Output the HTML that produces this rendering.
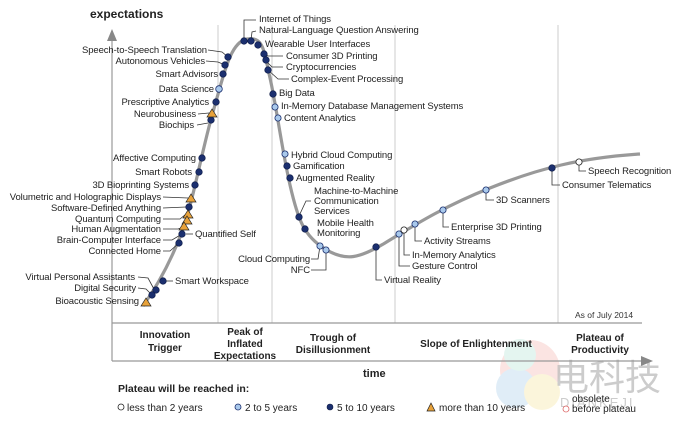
<!DOCTYPE html>
<html><head><meta charset="utf-8"><style>
html,body{margin:0;padding:0;background:#fff;}
svg{display:block;font-family:"Liberation Sans",Arial,sans-serif;}
.l{font-size:9.5px;fill:#222;letter-spacing:-0.1px}
.b{font-size:10px;font-weight:bold;fill:#222;text-anchor:middle}
.d{fill:#1b2f6e;stroke:#0d1a45;stroke-width:.6}
.c{fill:#a9c9ec;stroke:#1b2f6e;stroke-width:.8}
.w{fill:#fff;stroke:#222;stroke-width:.8}
.t{fill:#e8a23a;stroke:#222;stroke-width:.7}
.k{stroke:#333;stroke-width:.8;fill:none}
</style></head><body>
<svg width="680" height="425" viewBox="0 0 680 425" xmlns="http://www.w3.org/2000/svg">
<g opacity="0.3">
<circle cx="530" cy="370" r="30" fill="#f2a7a0"/>
<circle cx="516" cy="388" r="20" fill="#9cc6e8"/>
<circle cx="542" cy="392" r="18" fill="#f5e08a"/>
<circle cx="520" cy="355" r="16" fill="#a8e0d0"/>
</g>
<text x="553" y="390" font-size="36" fill="#bbb" font-family="'Liberation Sans','Noto Sans CJK SC',sans-serif" opacity="0.75">电科技</text>
<text x="560" y="407" font-size="13" fill="#ccc" letter-spacing="2">DIANKEJI</text>
<g stroke="#ccc" stroke-width="1">
<line x1="218" y1="25" x2="218" y2="323"/>
<line x1="272" y1="25" x2="272" y2="323"/>
<line x1="395" y1="25" x2="395" y2="323"/>
<line x1="558" y1="25" x2="558" y2="323"/>
</g>
<g stroke="#999" stroke-width="1.2">
<line x1="112" y1="40" x2="112" y2="361"/>
<line x1="112" y1="323" x2="642" y2="323"/>
<line x1="112" y1="361" x2="642" y2="361"/>
</g>
<polygon points="107,41 117,41 112,29" fill="#888"/>
<polygon points="641,356 641,366 653,361" fill="#888"/>
<text x="90" y="18" font-size="12" font-weight="bold" fill="#222">expectations</text>
<text x="363" y="377" font-size="11" font-weight="bold" fill="#222">time</text>
<text x="575" y="318" font-size="8.5" fill="#333">As of July 2014</text>
<text class="b" x="165" y="338">Innovation</text><text class="b" x="165" y="351">Trigger</text>
<text class="b" x="245" y="335">Peak of</text><text class="b" x="245" y="347">Inflated</text><text class="b" x="245" y="359">Expectations</text>
<text class="b" x="333" y="341">Trough of</text><text class="b" x="333" y="353">Disillusionment</text>
<text class="b" x="476" y="347">Slope of Enlightenment</text>
<text class="b" x="600" y="341">Plateau of</text><text class="b" x="600" y="353">Productivity</text>
<text x="118" y="392" font-size="10.5" font-weight="bold" fill="#222">Plateau will be reached in:</text>
<g font-size="10" fill="#222">
<circle class="w" cx="121" cy="407" r="3"/><text x="127" y="411">less than 2 years</text>
<circle class="c" cx="238" cy="407" r="3"/><text x="245" y="411">2 to 5 years</text>
<circle class="d" cx="330" cy="407" r="3"/><text x="337" y="411">5 to 10 years</text>
<polygon class="t" points="427,411 435,411 431,403"/><text x="439" y="411">more than 10 years</text>
<circle cx="566" cy="409" r="3" fill="#fff" stroke="#d66" stroke-width=".8"/><text x="572" y="402">obsolete</text><text x="572" y="412">before plateau</text>
</g>
<path d="M143,306 C158,285 172,258 182,232 S202,150 213,112 S230,42 247,39 S264,52 270,78 S282,150 290,185 S304,236 325,249 S360,258 385,243 S440,208 490,188 S580,158 640,154" fill="none" stroke="#999" stroke-width="3.2"/>
<g class="k">
<path d="M208,50 L222,52 L228,57"/><path d="M206,61 L218,62 L225,65"/>
<path d="M198,114 L209,113"/><path d="M197,125 L208,123"/>
<path d="M163,197 L188,198"/><path d="M163,208 L186,207"/>
<path d="M163,219 L180,219 L186,214"/><path d="M163,229 L178,229 L184,227"/>
<path d="M163,240 L172,240 L182,234"/><path d="M163,251 L170,251 L179,243"/>
<path d="M138,277 L148,278 L155,291"/><path d="M138,288 L146,289 L152,295"/>
<path d="M186,234 L193,234"/><path d="M166,281 L173,281"/>
<path d="M244,40 L244,20 L256,20"/><path d="M251,40 L252,32 L256,31"/>
<path d="M264,54 L268,56 L283,56"/><path d="M266,61 L272,67 L283,67"/><path d="M268,70 L278,79 L289,79"/>
<path d="M299,216 L306,201 L311,201"/>
<path d="M320,246 L318,259 L311,259"/><path d="M326,250 L326,270 L311,270"/>
<path d="M376,247 L376,280 L382,280"/>
<path d="M399,234 L399,266 L410,266"/><path d="M404,230 L404,255 L410,255"/>
<path d="M415,224 L415,241 L422,241"/><path d="M443,210 L443,227 L449,227"/>
<path d="M486,190 L486,200 L494,200"/><path d="M552,168 L552,185 L560,185"/>
<path d="M579,162 L579,171 L586,171"/>
</g>
<g class="l" text-anchor="end">
<text x="207" y="53">Speech-to-Speech Translation</text>
<text x="205" y="64">Autonomous Vehicles</text>
<text x="218" y="77">Smart Advisors</text>
<text x="214" y="92">Data Science</text>
<text x="209" y="105">Prescriptive Analytics</text>
<text x="196" y="117">Neurobusiness</text>
<text x="194" y="128">Biochips</text>
<text x="196" y="161">Affective  Computing</text>
<text x="192" y="175">Smart Robots</text>
<text x="189" y="188">3D Bioprinting Systems</text>
<text x="161" y="200">Volumetric and Holographic Displays</text>
<text x="161" y="211">Software-Defined Anything</text>
<text x="161" y="222">Quantum Computing</text>
<text x="161" y="232">Human Augmentation</text>
<text x="161" y="243">Brain-Computer Interface</text>
<text x="161" y="254">Connected Home</text>
<text x="135" y="280">Virtual Personal Assistants</text>
<text x="136" y="291">Digital Security</text>
<text x="139" y="304">Bioacoustic Sensing</text>
<text x="310" y="262">Cloud Computing</text>
<text x="310" y="273">NFC</text>
</g>
<g class="l">
<text x="195" y="237">Quantified Self</text>
<text x="175" y="284">Smart Workspace</text>
<text x="259" y="22">Internet of Things</text>
<text x="259" y="33">Natural-Language Question Answering</text>
<text x="265" y="47">Wearable User Interfaces</text>
<text x="286" y="59">Consumer 3D Printing</text>
<text x="286" y="70">Cryptocurrencies</text>
<text x="291" y="82">Complex-Event Processing</text>
<text x="279" y="96">Big Data</text>
<text x="281" y="109">In-Memory Database Management Systems</text>
<text x="284" y="121">Content Analytics</text>
<text x="291" y="158">Hybrid Cloud Computing</text>
<text x="293" y="169">Gamification</text>
<text x="296" y="181">Augmented Reality</text>
<text x="314" y="194">Machine-to-Machine</text>
<text x="314" y="204">Communication</text>
<text x="314" y="214">Services</text>
<text x="317" y="226">Mobile Health</text>
<text x="317" y="236">Monitoring</text>
<text x="384" y="283">Virtual Reality</text>
<text x="412" y="258">In-Memory Analytics</text>
<text x="412" y="269">Gesture Control</text>
<text x="424" y="244">Activity  Streams</text>
<text x="451" y="230">Enterprise 3D Printing</text>
<text x="496" y="203">3D Scanners</text>
<text x="562" y="188">Consumer Telematics</text>
<text x="588" y="174">Speech Recognition</text>
</g>
<g>
<circle class="d" cx="228" cy="57" r="3.3"/><circle class="d" cx="225" cy="65" r="3.3"/>
<circle class="d" cx="223" cy="74" r="3.3"/><circle class="c" cx="219" cy="89" r="3.3"/>
<circle class="d" cx="216" cy="102" r="3.3"/><circle class="d" cx="211" cy="120" r="3.3"/>
<polygon class="t" points="207,117 217,117 212,109"/>
<circle class="d" cx="202" cy="158" r="3.3"/><circle class="d" cx="199" cy="172" r="3.3"/>
<circle class="d" cx="195" cy="185" r="3.3"/><polygon class="t" points="186,202 196,202 191,194"/>
<circle class="d" cx="189" cy="207" r="3.3"/><polygon class="t" points="183,218 193,218 188,210"/>
<polygon class="t" points="182,224 192,224 187,216"/><polygon class="t" points="179,230 189,230 184,222"/>
<circle class="d" cx="182" cy="234" r="3.3"/><circle class="d" cx="179" cy="243" r="3.3"/>
<circle class="d" cx="163" cy="281" r="3.3"/><circle class="d" cx="156" cy="290" r="3.3"/>
<circle class="d" cx="152" cy="295" r="3.3"/><polygon class="t" points="141,306 151,306 146,298"/>
<circle class="d" cx="244" cy="41" r="3.3"/><circle class="d" cx="251" cy="41" r="3.3"/>
<circle class="d" cx="258" cy="45" r="3.3"/><circle class="d" cx="264" cy="54" r="3.3"/>
<circle class="d" cx="266" cy="60" r="3.3"/><circle class="d" cx="268" cy="70" r="3.3"/>
<circle class="d" cx="273" cy="94" r="3.3"/><circle class="c" cx="275" cy="107" r="3.1"/>
<circle class="c" cx="278" cy="118" r="3.1"/><circle class="c" cx="285" cy="154" r="3.1"/>
<circle class="d" cx="287" cy="166" r="3.3"/><circle class="d" cx="290" cy="178" r="3.3"/>
<circle class="d" cx="299" cy="217" r="3.3"/><circle class="d" cx="305" cy="229" r="3.3"/>
<circle class="c" cx="320" cy="246" r="3.1"/><circle class="c" cx="326" cy="250" r="3.1"/>
<circle class="d" cx="376" cy="247" r="3.3"/><circle class="c" cx="399" cy="234" r="3.1"/>
<circle class="w" cx="404" cy="230" r="3.1"/><circle class="c" cx="415" cy="224" r="3.1"/>
<circle class="c" cx="443" cy="210" r="3.1"/><circle class="c" cx="486" cy="190" r="3.1"/>
<circle class="d" cx="552" cy="168" r="3.3"/><circle class="w" cx="579" cy="162" r="3.1"/>
</g>
</svg>
</body></html>
